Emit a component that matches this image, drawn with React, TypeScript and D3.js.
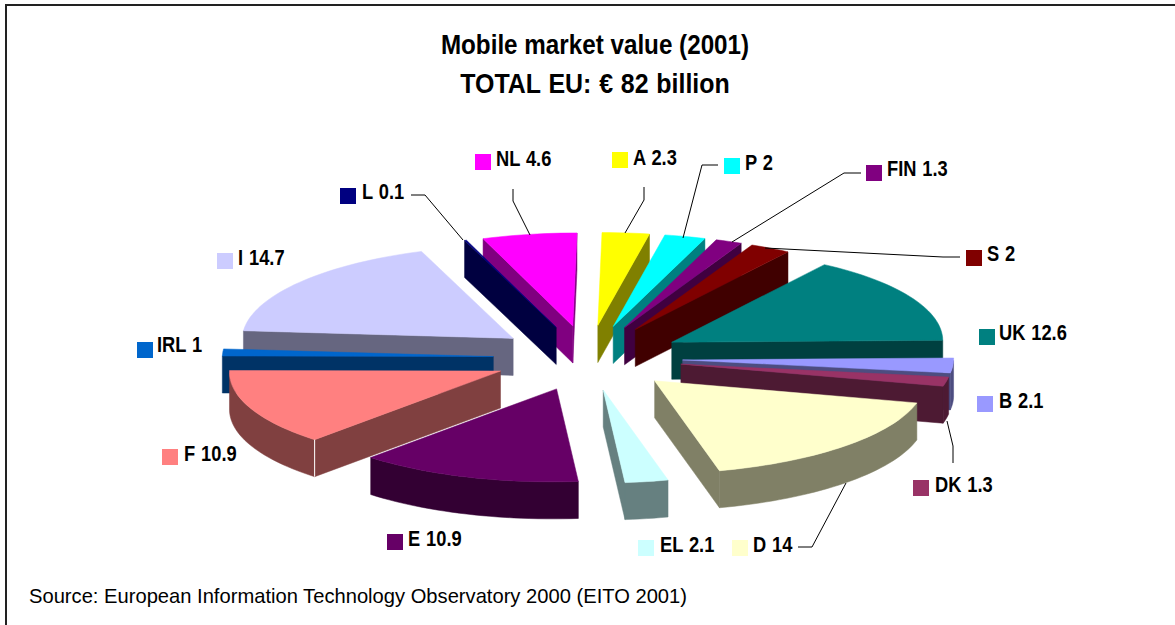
import { pie, line, range, scaleLinear, color, descending } from "d3";

const names = ["A", "P", "FIN", "S", "UK", "B", "DK", "D", "EL", "E", "F", "IRL", "I", "L", "NL"];
const values = [2.3, 2, 1.3, 2, 12.6, 2.1, 1.3, 14, 2.1, 10.9, 10.9, 1, 14.7, 0.1, 4.6];
const colors = [
  "#FFFF00", "#00FFFF", "#800080", "#800000", "#008080", "#9999FF", "#993366", "#FFFFCC",
  "#CCFFFF", "#660066", "#FF8080", "#0066CC", "#CCCCFF", "#000080", "#FF00FF",
];

// legend placement per slice: swatch x, swatch y, text x, baseline
const labelPos = {
  A: [612, 152, 633, 165],
  P: [724, 158, 745, 170],
  FIN: [866, 165, 887, 176],
  S: [966, 250, 987, 261],
  UK: [979, 329, 999, 340],
  B: [977, 396, 999, 408],
  DK: [913, 480, 935, 492],
  D: [732, 540, 753, 552],
  EL: [638, 540, 660, 552],
  E: [387, 534, 408, 546],
  F: [162, 449, 184, 461],
  IRL: [137, 342, 157, 352],
  I: [217, 253, 238, 265],
  L: [340, 188, 362, 199],
  NL: [475, 154, 496, 166],
};

const leaders = [
  [[411, 195], [425, 195], [463, 240]],
  [[513, 189], [513, 201], [530, 235]],
  [[644, 187], [644, 200], [625, 233]],
  [[718, 165], [702, 165], [683, 238]],
  [[861, 173], [844, 173], [732, 242]],
  [[960, 257], [943, 257], [765, 248]],
  [[953, 463], [953, 446], [947, 421]],
  [[798, 547], [812, 547], [846, 483]],
];

const cx = 588;
const cy = 358;
const rx = 271;
const ry = 93;
const depth = 37;
const explode = 0.35;
const shear = -0.045;

// unit circle -> screen, the pie lies on a tilted plane
const px = scaleLinear().domain([-1, 1]).range([cx - rx, cx + rx]);
const py = scaleLinear().domain([-1, 1]).range([cy - ry, cy + ry]);

const toLine = line();

function darker(c) {
  const rgb = color(c).rgb();
  return `rgb(${rgb.r / 2},${rgb.g / 2},${rgb.b / 2})`;
}

function Slice({ d, name, fill }) {
  const mid = (d.startAngle + d.endAngle) / 2;
  const ox = explode * Math.sin(mid);
  const oy = -explode * Math.cos(mid);
  const pt = (a, r = 1) => {
    const y = py(oy - r * Math.cos(a));
    return [px(ox + r * Math.sin(a)) + shear * (y - cy), y];
  };
  const down = (p) => [p[0], p[1] + depth];

  const steps = Math.max(2, Math.ceil((d.endAngle - d.startAngle) / 0.03));
  const angles = range(steps + 1).map((i) => d.startAngle + ((d.endAngle - d.startAngle) * i) / steps);
  const rim = angles.map((a) => pt(a));
  const apex = pt(0, 0);
  const top = [apex, ...rim];

  const walls = [];
  const addWall = (points) => {
    walls.push(toLine([...points, ...points.slice().reverse().map(down)]) + "Z");
  };
  // going clockwise round the top, only edges running leftward face the viewer
  const front = rim.filter((p, i) => angles[i] >= Math.PI / 2 && angles[i] <= 1.5 * Math.PI);
  const first = rim[0];
  const last = rim[rim.length - 1];
  if (first[0] < apex[0]) addWall([apex, first]);
  if (last[0] > apex[0]) addWall([last, apex]);
  if (front.length > 1) addWall(front);

  const wallFill = darker(fill);
  return (
    <g data-name={name}>
      {walls.map((w, i) => (
        <path key={i} d={w} fill={wallFill} stroke={wallFill} strokeWidth={0.5} />
      ))}
      <path d={toLine(top) + "Z"} fill={fill} stroke={fill} strokeWidth={0.5} />
      {/* the F slice has a light seam on its front corner */}
      {name === "F" && <path d={toLine([first, down(first)])} stroke="#fff" strokeWidth={1} fill="none" />}
    </g>
  );
}

function Legend({ name, value, fill }) {
  const [sx, sy, tx, ty] = labelPos[name];
  return (
    <g>
      <rect x={sx} y={sy} width={16} height={16} fill={fill} />
      <text
        transform={`translate(${tx},${ty}) scale(0.85,1)`}
        fontFamily="Liberation Sans"
        fontWeight="bold"
        fontSize={21.5}
        fill="#000"
        wordSpacing={1}
        style={{ whiteSpace: "pre" }}
      >
        {`${name} ${value}`}
      </text>
    </g>
  );
}

export default function App() {
  const arcs = pie().sort(null).value((v) => v)(values);
  const order = range(values.length).sort((a, b) =>
    descending(
      Math.cos((arcs[a].startAngle + arcs[a].endAngle) / 2),
      Math.cos((arcs[b].startAngle + arcs[b].endAngle) / 2)
    )
  );

  return (
    <svg width={1175} height={625} style={{ position: "fixed", left: 0, top: 0, background: "#fff" }}>
      <path d="M6,625V5H1175" fill="none" stroke="#222" strokeWidth={2} />
      <g fontFamily="Liberation Sans" fontWeight="bold" fontSize={28.5} textAnchor="middle">
        <text transform="translate(595,54) scale(0.85,1)">Mobile market value (2001)</text>
        <text transform="translate(595,93) scale(0.875,1)" wordSpacing={1}>TOTAL EU: € 82 billion</text>
      </g>
      {order.map((i) => (
        <Slice key={names[i]} d={arcs[i]} name={names[i]} fill={colors[i]} />
      ))}
      {leaders.map((l, i) => (
        <path key={i} d={toLine(l)} fill="none" stroke="#000" strokeWidth={1} />
      ))}
      {names.map((n, i) => (
        <Legend key={n} name={n} value={values[i]} fill={colors[i]} />
      ))}
      <text
        transform="translate(29,603) scale(0.96,1)"
        fontFamily="Liberation Sans"
        fontSize={21}
        fill="#000"
      >
        Source: European Information Technology Observatory 2000 (EITO 2001)
      </text>
    </svg>
  );
}
